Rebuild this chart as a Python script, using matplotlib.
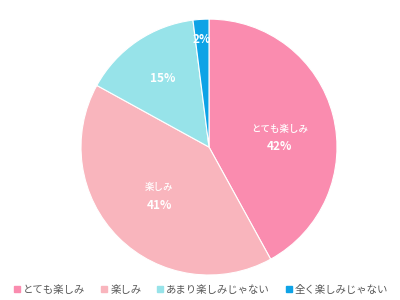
import numpy as np
import matplotlib
matplotlib.use("Agg")
import matplotlib.pyplot as plt
from matplotlib.lines import Line2D

plt.rcParams['font.family'] = ['Noto Sans CJK JP', 'DejaVu Sans']

# data
categories = ['とても楽しみ', '楽しみ', 'あまり楽しみじゃない', '全く楽しみじゃない']
values = [42, 41, 15, 2]
show_name = [True, True, False, False]
colors = ['#FA8CAF', '#F9B5BD', '#97E3E9', '#0EA3E6']

fig = plt.figure(figsize=(4, 3), dpi=100)
ax = fig.add_axes([0.2025, 0.0833, 0.64, 0.853])

wedges, _ = ax.pie(values, colors=colors, startangle=90, counterclock=False,
                   radius=1, wedgeprops=dict(edgecolor='white', linewidth=0.8))
ax.set_xlim(-1, 1)
ax.set_ylim(-1, 1)
ax.set_aspect('auto')

# label radius / vertical shift per wedge (rough match of excel placement)
label_r = [0.57, 0.55, 0.65, 0.84]
label_dy = [-0.07, 0.0, 0.0, 0.0]

for w, name, v, show, r, dy in zip(wedges, categories, values, show_name, label_r, label_dy):
    ang = np.deg2rad((w.theta1 + w.theta2) / 2)
    x, y = r * np.cos(ang), r * np.sin(ang) + dy
    if show:
        ax.text(x, y + 0.07, name, ha='center', va='center', color='white',
                fontsize=6.8, fontweight='medium')
        ax.text(x, y - 0.07, f"{v}%", ha='center', va='center', color='white',
                fontsize=8.5, fontweight='bold')
    else:
        ax.text(x, y, f"{v}%", ha='center', va='center', color='white',
                fontsize=8.5, fontweight='bold')

handles = [Line2D([], [], marker='s', linestyle='', color=c, markersize=4)
           for c in colors]
fig.legend(handles, categories, loc='lower center', bbox_to_anchor=(0.5, -0.015),
           ncol=4, frameon=False, fontsize=7.5, labelcolor='#595959',
           handletextpad=0.1, columnspacing=1.3, handlelength=1)

fig.savefig('out.png', dpi=100, facecolor='white')
